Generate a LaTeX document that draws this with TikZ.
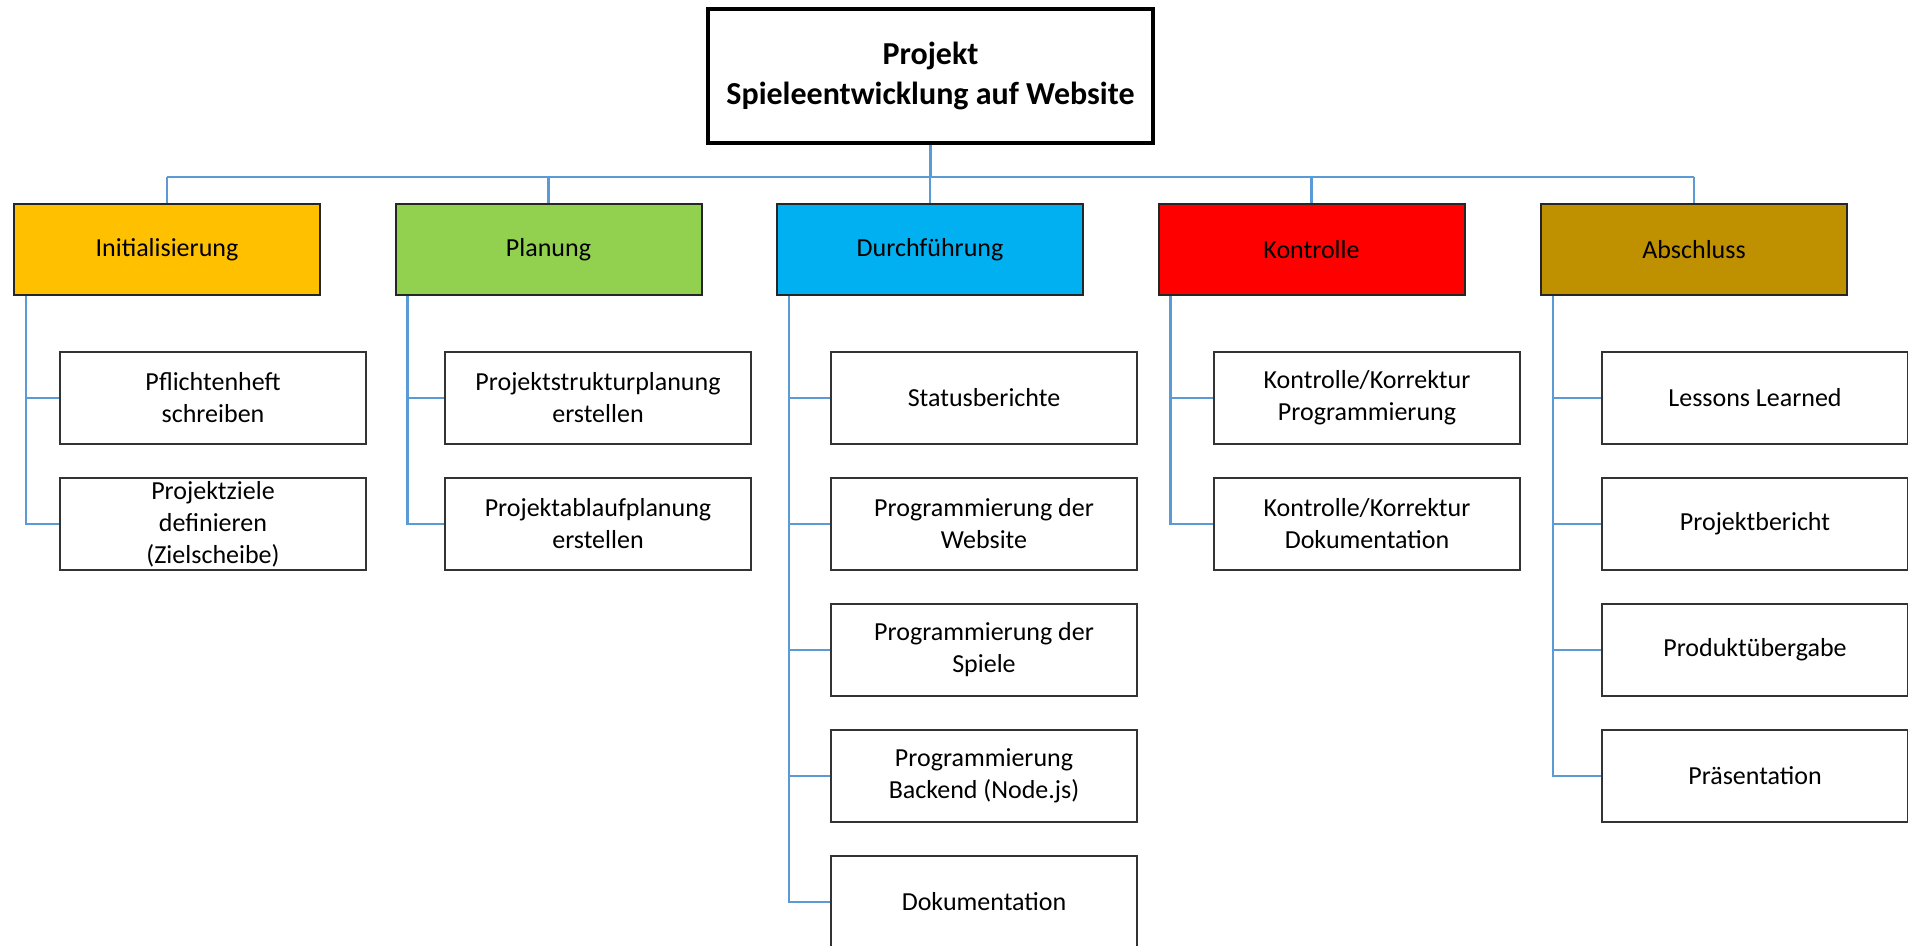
\documentclass[tikz,border=0pt]{standalone}
\usepackage{fontspec}
\setmainfont{Carlito}
\definecolor{cInit}{HTML}{FFC000}
\definecolor{cPlan}{HTML}{92D050}
\definecolor{cDurch}{HTML}{00B0F0}
\definecolor{cKontr}{HTML}{FF0000}
\definecolor{cAbsch}{HTML}{BF9000}
\definecolor{linkblue}{HTML}{5B9BD5}
\tikzset{
  titlebox/.style={draw=black, line width=4pt, fill=white, minimum width=445pt, minimum height=134pt,
    align=center, inner sep=0pt, font=\fontsize{32}{40}\selectfont\bfseries},
  phasebox/.style={draw=black!85, line width=2pt, minimum width=306pt, minimum height=91pt,
    align=center, inner sep=0pt, font=\fontsize{26}{32}\selectfont},
  taskbox/.style={draw=black!80, line width=2pt, fill=white, minimum width=306pt, minimum height=92pt,
    align=center, inner sep=0pt, font=\fontsize{26}{32}\selectfont},
  link/.style={draw=linkblue, line width=2.2pt}
}
\begin{document}
\begin{tikzpicture}[x=1pt, y=-1pt]
  \useasboundingbox (0,0) rectangle (1908,945);

  % root
  \node[titlebox] (root) at (930.5,76) {Projekt\\Spieleentwicklung auf Website};

  % phases
  \node[phasebox, fill=cInit]  (p1) at (167,249.5)    {Initialisierung};
  \node[phasebox, fill=cPlan]  (p2) at (548.5,249.5)  {Planung};
  \node[phasebox, fill=cDurch] (p3) at (930,249.5)    {Durchführung};
  \node[phasebox, fill=cKontr] (p4) at (1311.5,249.5) {Kontrolle};
  \node[phasebox, fill=cAbsch] (p5) at (1694,249.5)   {Abschluss};

  % bus from root to phases
  \coordinate (busL) at (167,177);
  \coordinate (busR) at (1694,177);
  \draw[link] (busL) -- (busR);
  \draw[link] (root.south) -- (root.south |- busL);
  \foreach \p in {p1,p2,p3,p4,p5} {
    \draw[link] (\p.north) -- (\p.north |- busL);
  }

  % tasks
  \node[taskbox] (t11) at (213,398) {Pflichtenheft\\schreiben};
  \node[taskbox] (t12) at (213,524) {Projektziele\\definieren\\(Zielscheibe)};

  \node[taskbox] (t21) at (598,398) {Projektstrukturplanung\\erstellen};
  \node[taskbox] (t22) at (598,524) {Projektablaufplanung\\erstellen};

  \node[taskbox] (t31) at (984,398) {Statusberichte};
  \node[taskbox] (t32) at (984,524) {Programmierung der\\Website};
  \node[taskbox] (t33) at (984,650) {Programmierung der\\Spiele};
  \node[taskbox] (t34) at (984,776) {Programmierung\\Backend (Node.js)};
  \node[taskbox] (t35) at (984,902) {Dokumentation};

  \node[taskbox] (t41) at (1367,398) {Kontrolle/Korrektur\\Programmierung};
  \node[taskbox] (t42) at (1367,524) {Kontrolle/Korrektur\\Dokumentation};

  \node[taskbox] (t51) at (1755,398) {Lessons Learned};
  \node[taskbox] (t52) at (1755,524) {Projektbericht};
  \node[taskbox] (t53) at (1755,650) {Produktübergabe};
  \node[taskbox] (t54) at (1755,776) {Präsentation};

  % phase-to-task connectors
  \foreach \p/\list in {p1/{t11,t12}, p2/{t21,t22}, p3/{t31,t32,t33,t34,t35},
                        p4/{t41,t42}, p5/{t51,t52,t53,t54}} {
    \foreach \t in \list {
      \draw[link] ([xshift=13pt]\p.south west) |- (\t.west);
    }
  }
\end{tikzpicture}
\end{document}
